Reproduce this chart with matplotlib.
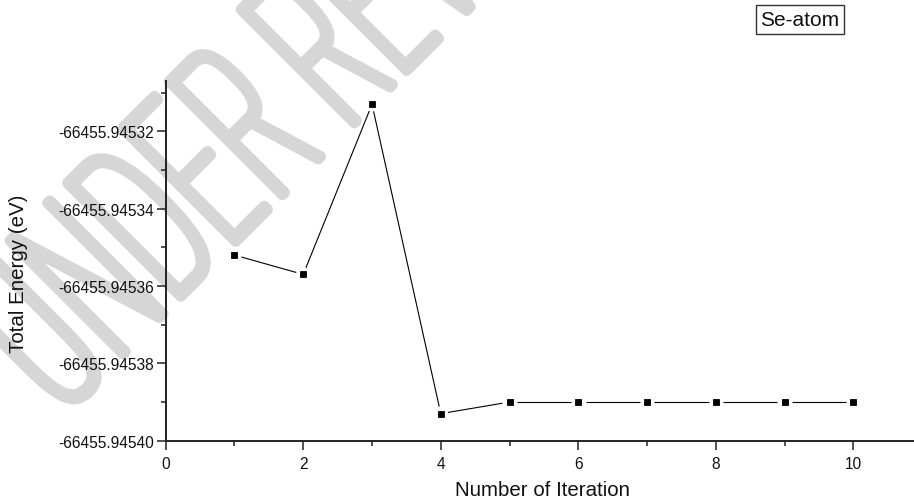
import numpy as np
import matplotlib
matplotlib.use("Agg")
import matplotlib.pyplot as plt
import matplotlib.colors as mcolors
from matplotlib.patheffects import AbstractPathEffect
from matplotlib.transforms import Affine2D

# ---- data -------------------------------------------------------------
iterations = [1, 2, 3, 4, 5, 6, 7, 8, 9, 10]
total_energy = [-66455.945352, -66455.945357, -66455.945313, -66455.945393,
                -66455.945390, -66455.945390, -66455.945390, -66455.945390,
                -66455.945390, -66455.945390]

x_major = [0, 2, 4, 6, 8, 10]
x_minor = [1, 3, 5, 7, 9]
y_major = [-66455.94540, -66455.94538, -66455.94536, -66455.94534, -66455.94532]
y_minor = [-66455.94539, -66455.94537, -66455.94535, -66455.94533, -66455.94531]

series_name = "Se-atom"
x_title = "Number of Iteration"
y_title = "Total Energy (eV)"
stamp_text = "UNDER REVIEW"

plt.rcParams["font.family"] = ["Liberation Sans", "DejaVu Sans"]

W, H = 914, 502
fig = plt.figure(figsize=(W / 100, H / 100), dpi=100)

# axes box in pixel units
left_px, bottom_px, top_px = 165.7, 441.7, 81.7
ax = fig.add_axes([left_px / W, 1 - bottom_px / H, (W - left_px) / W,
                   (bottom_px - top_px) / H])
ax.set_facecolor("white")

px_per_x = 68.77
ax.set_xlim(0, (W - left_px) / px_per_x)
ax.set_ylim(-66455.94540, -66455.9453069)


class CondensedStroke(AbstractPathEffect):
    """Draw text squeezed horizontally and outlined with round joins."""

    def __init__(self, squeeze, width, color):
        super().__init__()
        self._sx = squeeze
        self._w = width
        self._c = color

    def draw_path(self, renderer, gc, tpath, affine, rgbFace=None):
        gc0 = renderer.new_gc()
        gc0.copy_properties(gc)
        gc0.set_foreground(self._c)
        gc0.set_linewidth(self._w)
        gc0.set_joinstyle("round")
        gc0.set_capstyle("round")
        trans = Affine2D().scale(self._sx, 1.0) + affine
        renderer.draw_path(gc0, tpath, trans, mcolors.to_rgba(self._c))
        gc0.restore()


# diagonal stamp behind the data
ax.text(60 / W, 1 - 418 / H, stamp_text, transform=fig.transFigure,
        rotation=45, rotation_mode="anchor", ha="left", va="baseline",
        fontsize=165, family=["IBM Plex Sans Condensed", "Roboto"],
        fontweight=100, fontstretch="condensed", color="#d6d6d6",
        zorder=0.5, clip_on=False,
        path_effects=[CondensedStroke(0.57, 8.0, "#d6d6d6")])

# spines
for s in ("top", "right"):
    ax.spines[s].set_visible(False)
for s in ("left", "bottom"):
    ax.spines[s].set_linewidth(1.4)
    ax.spines[s].set_color("#222222")
    ax.spines[s].set_zorder(3)

# line segments that stop short of each marker
fig.canvas.draw()
pts = ax.transData.transform(np.column_stack([iterations, total_energy]))
inv = ax.transData.inverted()
gap = 7.2
for p0, p1 in zip(pts[:-1], pts[1:]):
    d = p1 - p0
    u = d / np.hypot(*d)
    seg = inv.transform(np.array([p0 + u * gap, p1 - u * gap]))
    ax.plot(seg[:, 0], seg[:, 1], color="black", lw=0.8, zorder=2,
            solid_capstyle="butt")

ax.plot(iterations, total_energy, linestyle="none", marker="s", ms=4.6,
        mfc="black", mec="black", mew=0.6, zorder=3)

# ticks
ax.set_xticks(x_major)
ax.set_xticks(x_minor, minor=True)
ax.set_xticklabels([str(v) for v in x_major])
ax.set_yticks(y_major)
ax.set_yticks(y_minor, minor=True)
ax.set_yticklabels([f"{v:.5f}" for v in y_major])

ax.tick_params(axis="both", which="major", direction="out", length=6.2,
               width=1.1, color="#222222", labelsize=11.2, labelcolor="#111111")
ax.tick_params(axis="both", which="minor", direction="out", length=3.3,
               width=1.1, color="#222222")
ax.tick_params(axis="x", which="major", pad=4.5)
ax.tick_params(axis="y", which="major", pad=2.5)

ax.set_xlabel(x_title, fontsize=14.8, color="#111111")
ax.set_ylabel(y_title, fontsize=14.8, color="#111111")
ax.xaxis.set_label_coords(0.504, -0.109)
ax.yaxis.set_label_coords(-0.197, 0.466)
ax.yaxis.label.set_va("center")
ax.xaxis.label.set_va("top")

# series tag in the upper right
fig.text(800 / W, 1 - 20.5 / H, series_name, ha="center", va="center",
         fontsize=15, color="#111111",
         bbox=dict(boxstyle="square,pad=0.22", fc="white", ec="#333333",
                   lw=1.0))

fig.savefig("out.png", dpi=100)
